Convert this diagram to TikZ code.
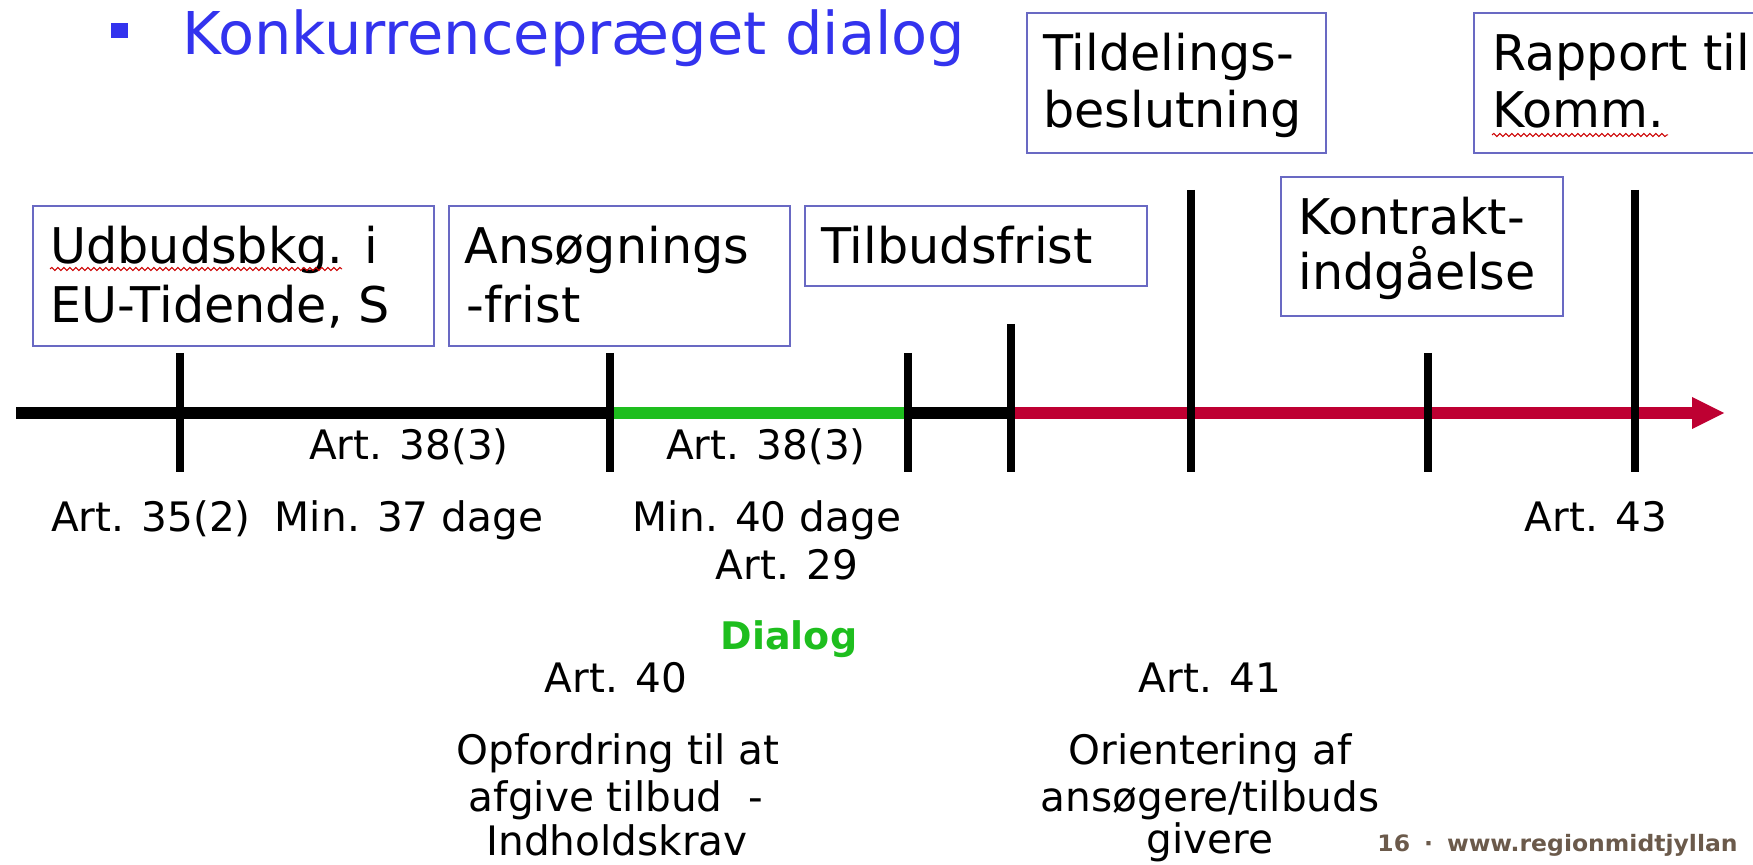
\documentclass[tikz,border=0pt]{standalone}
\usepackage{fontspec}
\setmainfont{DejaVu Sans}
\newfontfamily\footfont[FakeStretch=1.04]{DejaVu Sans}
\usetikzlibrary{decorations.pathmorphing}
\definecolor{boxblue}{RGB}{105,105,195}
\definecolor{titleblue}{RGB}{51,51,238}
\definecolor{dgreen}{RGB}{30,190,30}
\definecolor{tred}{RGB}{190,0,50}
\definecolor{footbrown}{RGB}{107,90,75}
\tikzset{
  boxframe/.style={draw=boxblue, line width=1pt, inner sep=0pt, anchor=north west},
  boxtext/.style={font=\fontsize{24.6}{30}\selectfont, inner sep=0pt, anchor=base west},
  lbl/.style={font=\fontsize{20.3}{24}\selectfont, inner sep=0pt, anchor=base},
  tline/.style={line width=6pt},
  tickline/.style={line width=4pt, black},
  squig/.style={draw=red!80!black, line width=0.5pt, decorate, decoration={snake, segment length=3pt, amplitude=0.8pt}}
}
\begin{document}
\begin{tikzpicture}[x=0.5pt,y=-0.5pt]
\useasboundingbox (0,0) rectangle (1753,865);
% title
\fill[titleblue] (111,23) rectangle (128,38);
\node[font=\fontsize{29.5}{35}\selectfont, text=titleblue, inner sep=0pt, anchor=base west] (title) at (182,55) {Konkurrencepræget dialog};
% boxes
\node[boxframe, minimum width=200.5pt, minimum height=70pt] (b1) at (32,205) {};
\node[boxframe, minimum width=170.5pt, minimum height=70pt] (b2) at (448,205) {};
\node[boxframe, minimum width=171pt, minimum height=40pt] (b3) at (804,205) {};
\node[boxframe, minimum width=149.5pt, minimum height=70pt] (b4) at (1026,12) {};
\node[boxframe, minimum width=150pt, minimum height=70pt] (b5) at (1473,12) {};
\node[boxframe, minimum width=141pt, minimum height=69.5pt] (b6) at (1280,176) {};
\node[boxtext] (t1a) at (50,264) {Udbudsbkg. i};
\node[boxtext] (t1b) at (50,323) {EU-Tidende, S};
\node[boxtext] (t2a) at (464,264) {Ansøgnings};
\node[boxtext] (t2b) at (466,323) {-frist};
\node[boxtext] (t3a) at (821,264) {Tilbudsfrist};
\node[boxtext] (t4a) at (1043,71) {Tildelings-};
\node[boxtext] (t4b) at (1043,128) {beslutning};
\node[boxtext] (t5a) at (1492,71) {Rapport til};
\node[boxtext] (t5b) at (1492,128) {Komm.};
\node[boxtext] (t6a) at (1298,235) {Kontrakt-};
\node[boxtext] (t6b) at (1298,290) {indgåelse};
\draw[squig] (50,269) -- (342,269);
\draw[squig] (1492,135) -- (1668,135);
% timeline
\coordinate (p0) at (16,413);
\coordinate (p1) at (610,413);
\coordinate (p2) at (908,413);
\coordinate (p3) at (1011,413);
\coordinate (p4) at (1692,413);
\coordinate (p5) at (1724,413);
\draw[tline, black] (p0) -- (p1);
\draw[tline, dgreen] (p1) -- (p2);
\draw[tline, black] (p2) -- (p3);
\draw[tline, tred] (p3) -- (p4);
\fill[tred] (1692,397) -- (p5) -- (1692,429) -- cycle;
% ticks
\draw[tickline] (180,353) -- (180,472);
\draw[tickline] (610,353) -- (610,472);
\draw[tickline] (908,353) -- (908,472);
\draw[tickline] (1011,324) -- (1011,472);
\draw[tickline] (1191,190) -- (1191,472);
\draw[tickline] (1428,353) -- (1428,472);
\draw[tickline] (1635,190) -- (1635,472);
% labels
\node[lbl] (l1) at (409,460) {Art. 38(3)};
\node[lbl] (l2) at (766,460) {Art. 38(3)};
\node[lbl] (l3) at (151,532) {Art. 35(2)};
\node[lbl] (l4) at (409,532) {Min. 37 dage};
\node[lbl] (l5) at (767,532) {Min. 40 dage};
\node[lbl] (l6) at (787,580) {Art. 29};
\node[lbl] (l7) at (1596,532) {Art. 43};
\node[lbl, font=\bfseries\fontsize{19}{23}\selectfont, text=dgreen] (dia) at (789,650) {Dialog};
\node[lbl] (a40) at (616,693) {Art. 40};
\node[lbl] (a41) at (1210,693) {Art. 41};
\node[lbl] (o1) at (618,765) {Opfordring til at};
\node[lbl] (o2) at (616,812) {afgive tilbud\ \ -};
\node[lbl] (o3) at (617,856) {Indholdskrav};
\node[lbl] (r1) at (1210,765) {Orientering af};
\node[lbl] (r2) at (1210,812) {ansøgere/tilbuds};
\node[lbl] (r3) at (1210,854) {givere};
\node[font=\footfont\bfseries\fontsize{11.3}{14}\selectfont, text=footbrown, inner sep=0pt, anchor=base west] (foot) at (1377,852) {16\hspace{7pt}·\hspace{7pt}www.regionmidtjyllan};
\end{tikzpicture}
\end{document}
